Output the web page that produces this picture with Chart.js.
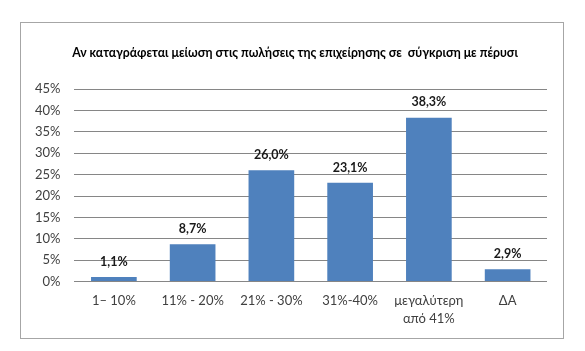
<!DOCTYPE html>
<html>
<head>
<meta charset="utf-8">
<script src="https://cdn.jsdelivr.net/npm/chart.js@4"></script>
<style>
  body { margin: 0; background: #fff; }
  #wrap { position: relative; width: 585px; height: 351px; }
  #frame { position: absolute; left: 20px; top: 22px; width: 542px; height: 315px; border: 1px solid #a6a6a6; }
  canvas { position: absolute; left: 0; top: 0; }
</style>
</head>
<body>
<div id="wrap">
  <div id="frame"></div>
  <canvas id="salesChart" width="585" height="351"></canvas>
</div>
<script>
var categories = ['1– 10%', '11% - 20%', '21% - 30%', '31%-40%', ['μεγαλύτερη', 'από 41%'], 'ΔΑ'];
var values = [1.1, 8.7, 26.0, 23.1, 38.3, 2.9];
var chartTitle = 'Αν καταγράφεται μείωση στις πωλήσεις της επιχείρησης σε  σύγκριση με πέρυσι';

// title sits a bit right of the plot centre, like the original
var titleText = {
    id: 'titleText',
    afterDraw: function (chart) {
        var ctx = chart.ctx;
        ctx.save();
        ctx.font = 'bold 12.25px Lato, "Liberation Sans", sans-serif';
        ctx.fillStyle = '#000';
        ctx.textAlign = 'center';
        ctx.textBaseline = 'middle';
        ctx.fillText(chartTitle, 295, 53);
        ctx.restore();
    }
};

// draws the "26,0%" labels above each bar
var barLabels = {
    id: 'barLabels',
    afterDatasetsDraw: function (chart) {
        var ctx = chart.ctx;
        var meta = chart.getDatasetMeta(0);
        ctx.save();
        ctx.font = 'bold 12.5px Lato, "Liberation Sans", sans-serif';
        ctx.fillStyle = '#1a1a1a';
        ctx.textAlign = 'center';
        ctx.textBaseline = 'bottom';
        meta.data.forEach(function (bar, i) {
            ctx.fillText(values[i].toFixed(1).replace('.', ',') + '%', bar.x, bar.y - 9);
        });
        ctx.restore();
    }
};

var ctx = document.getElementById('salesChart').getContext('2d');
var barChart = new Chart(ctx, {
    type: 'bar',
    data: {
        labels: categories,
        datasets: [{
            data: values,
            backgroundColor: '#4f81bd',
            barPercentage: 0.58,
            categoryPercentage: 1.0
        }]
    },
    options: {
        responsive: false,
        animation: false,
        layout: { padding: { top: 89, left: 21, right: 38, bottom: 21 } },
        plugins: {
            legend: { display: false },
            tooltip: { enabled: false },
            title: { display: false }
        },
        scales: {
            x: {
                grid: { display: false },
                border: { display: false },
                ticks: {
                    color: '#404040',
                    padding: 2,
                    maxRotation: 0,
                    autoSkip: false,
                    font: { family: 'Lato, "Liberation Sans", sans-serif', size: 13, lineHeight: 1.4 }
                }
            },
            y: {
                min: 0,
                max: 45,
                grid: { color: '#868686', lineWidth: 1, drawTicks: false },
                border: { display: false },
                ticks: {
                    stepSize: 5,
                    color: '#404040',
                    padding: 14,
                    font: { family: 'Lato, "Liberation Sans", sans-serif', size: 13 },
                    callback: function (v) { return v + '%'; }
                }
            }
        }
    },
    plugins: [barLabels, titleText]
});
</script>
</body>
</html>
